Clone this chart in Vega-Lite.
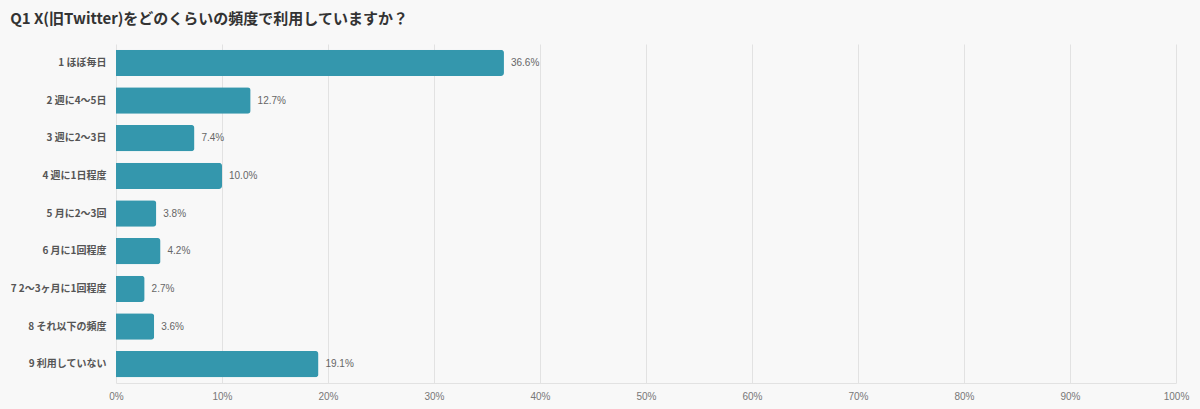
{
  "$schema": "https://vega.github.io/schema/vega-lite/v6.json",
  "width": 1200,
  "height": 409,
  "autosize": {"type": "fit", "contains": "padding"},
  "padding": {"left": 10, "right": 11, "top": 12, "bottom": 8},
  "background": "#f8f8f8",
  "title": {
    "text": "Q1 X(旧Twitter)をどのくらいの頻度で利用していますか？",
    "anchor": "start",
    "frame": "bounds",
    "font": "Noto Sans CJK JP",
    "fontSize": 15,
    "fontWeight": "bold",
    "color": "#333333",
    "offset": 17
  },
  "data": {
    "values": [
      {"answer": "1 ほぼ毎日", "pct": 36.6},
      {"answer": "2 週に4〜5日", "pct": 12.7},
      {"answer": "3 週に2〜3日", "pct": 7.4},
      {"answer": "4 週に1日程度", "pct": 10.0},
      {"answer": "5 月に2〜3回", "pct": 3.8},
      {"answer": "6 月に1回程度", "pct": 4.2},
      {"answer": "7 2〜3ヶ月に1回程度", "pct": 2.7},
      {"answer": "8 それ以下の頻度", "pct": 3.6},
      {"answer": "9 利用していない", "pct": 19.1}
    ]
  },
  "encoding": {
    "y": {
      "field": "answer",
      "type": "nominal",
      "sort": null,
      "title": null,
      "scale": {"paddingInner": 0.3, "paddingOuter": 0.15},
      "axis": {
        "ticks": false,
        "domain": false,
        "labelFont": "Noto Sans CJK JP",
        "labelFontSize": 10,
        "labelFontWeight": "bold",
        "labelColor": "#555555",
        "labelPadding": 10,
        "minExtent": 105,
        "maxExtent": 105
      }
    },
    "x": {
      "field": "pct",
      "type": "quantitative",
      "title": null,
      "scale": {"domain": [0, 100]},
      "axis": {
        "values": [0, 10, 20, 30, 40, 50, 60, 70, 80, 90, 100],
        "labelExpr": "datum.value + '%'",
        "labelFlush": false,
        "ticks": false,
        "domainColor": "#e2e2e2",
        "gridColor": "#e2e2e2",
        "labelFont": "Liberation Sans",
        "labelFontSize": 10,
        "labelColor": "#777777",
        "labelPadding": 8
      }
    }
  },
  "layer": [
    {
      "mark": {"type": "bar", "color": "#3497ad", "cornerRadiusEnd": 3}
    },
    {
      "mark": {
        "type": "text",
        "align": "left",
        "dx": 7,
        "font": "Liberation Sans",
        "fontSize": 10,
        "color": "#666666"
      },
      "encoding": {
        "text": {"field": "label", "type": "nominal"},
        "x": {"field": "pct", "type": "quantitative"}
      },
      "transform": [
        {"calculate": "format(datum.pct, '.1f') + '%'", "as": "label"}
      ]
    }
  ],
  "config": {"view": {"stroke": null}}
}
